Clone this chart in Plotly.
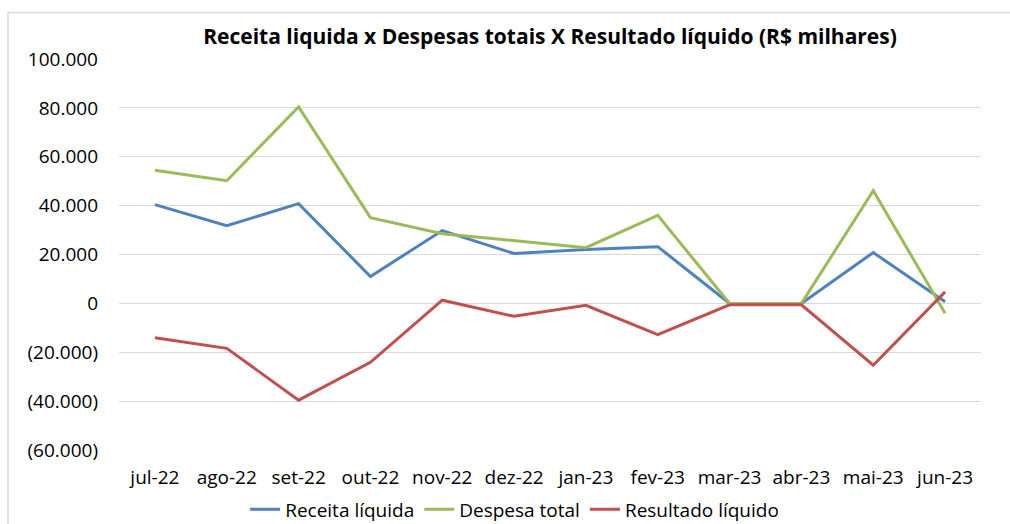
import plotly.graph_objects as go

months = ["jul-22", "ago-22", "set-22", "out-22", "nov-22", "dez-22",
          "jan-23", "fev-23", "mar-23", "abr-23", "mai-23", "jun-23"]
receita = [40400, 31800, 40800, 11000, 29800, 20400, 22000, 23200, 0, 0, 20800, 700]
despesa = [54500, 50200, 80400, 35100, 28500, 25700, 22800, 36000, 0, 0, 46100, -4000]
resultado = [-14100, -18400, -39600, -24100, 1300, -5300, -800, -12800, -600, -600, -25300, 4700]

y_tickvals = [100000, 80000, 60000, 40000, 20000, 0, -20000, -40000, -60000]
y_ticktext = ["100.000", "80.000", "60.000", "40.000", "20.000", "0",
              "(20.000)", "(40.000)", "(60.000)"]

FONT = "Open Sans"

fig = go.Figure()
series = [
    ("Receita líquida", receita, "#4F81BD"),
    ("Despesa total", despesa, "#9BBB59"),
    ("Resultado líquido", resultado, "#C0504D"),
]
for name, vals, col in series:
    fig.add_trace(go.Scatter(x=months, y=vals, name=name, mode="lines",
                             line=dict(color=col, width=3)))

fig.update_layout(
    width=1010, height=524,
    margin=dict(l=119, r=29, t=59, b=74, autoexpand=False),
    paper_bgcolor="white", plot_bgcolor="white",
    font=dict(family=FONT, size=19, color="#000000"),
    title=dict(text="<b>Receita liquida x Despesas totais X Resultado líquido (R$ milhares)</b>",
               x=0.5, xref="paper", xanchor="center", y=0.93, yanchor="middle",
               font=dict(family=FONT, size=21, color="#000000")),
    showlegend=True,
    legend=dict(orientation="h", x=0.459, xanchor="center", y=-0.152, yanchor="middle",
                font=dict(family=FONT, size=19), itemwidth=30,
                bgcolor="rgba(0,0,0,0)"),
    xaxis=dict(type="category", showgrid=False, showline=False, zeroline=False,
               ticks="", ticklabelstandoff=14, range=[-0.5, 11.5], automargin=False),
    yaxis=dict(range=[-60000, 100000], tickvals=y_tickvals, ticktext=y_ticktext,
               showgrid=True, gridcolor="#d9d9d9", gridwidth=1, zeroline=False,
               showline=False, ticks="", ticklabelstandoff=20, automargin=False),
    shapes=[dict(type="rect", xref="paper", yref="paper",
                 x0=(8 - 119) / 862, x1=1.2, y0=-0.3, y1=(450 - 12.5) / 391,
                 line=dict(color="#d9d9d9", width=1.5), layer="below")],
)

fig.write_html("out.html", config={"displayModeBar": False},
               post_script="document.body.style.margin='0';document.body.style.overflow='hidden';")
